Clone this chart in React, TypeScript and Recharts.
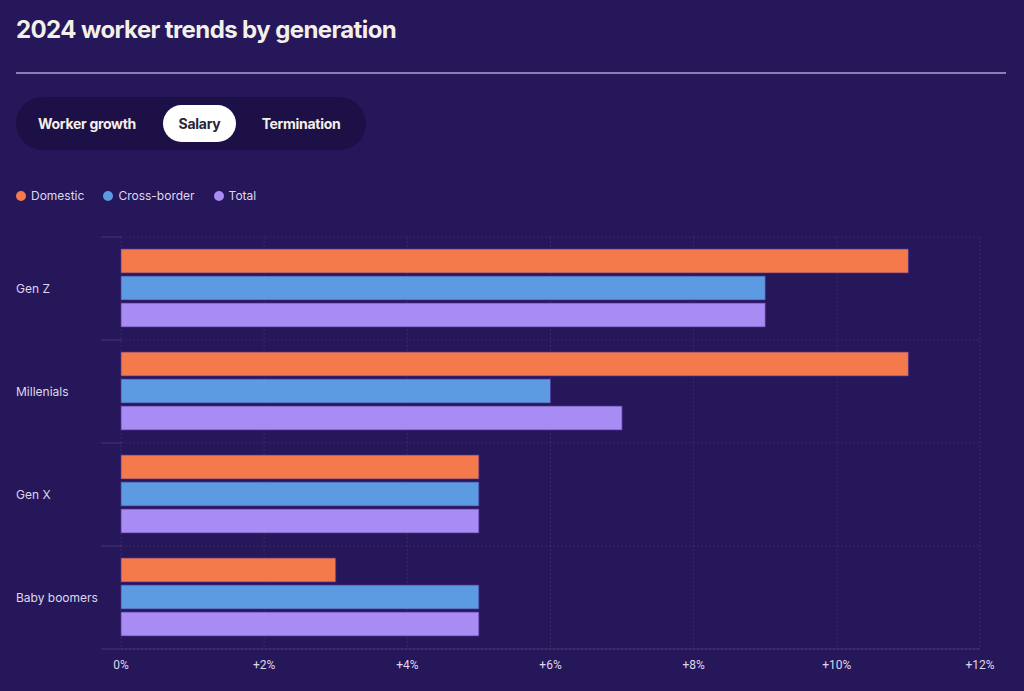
import React from "react";
import {
  BarChart,
  Bar,
  XAxis,
  YAxis,
  CartesianGrid,
} from "recharts";

const generations = ["Gen Z", "Millenials", "Gen X", "Baby boomers"];
const domestic = [11, 11, 5, 3];
const crossBorder = [9, 6, 5, 5];
const total = [9, 7, 5, 5];
const xTicks = [0, 2, 4, 6, 8, 10, 12];
const tabs = ["Worker growth", "Salary", "Termination"];

const SERIES = [
  { key: "domestic", name: "Domestic", color: "#f47a4b" },
  { key: "crossBorder", name: "Cross-border", color: "#5c9be1" },
  { key: "total", name: "Total", color: "#a88bf3" },
];

const BG = "#26175a";
const FONT = "Inter, 'Liberation Sans', Arial, sans-serif";

const chartData = generations.map((g, i) => ({
  name: g,
  domestic: domestic[i],
  crossBorder: crossBorder[i],
  total: total[i],
}));

const CHART_W = 1024;
const CHART_H = 471;
const MARGIN = { top: 17, right: 44, left: 0, bottom: 12 };
const Y_W = 121;

function YTick(props: any) {
  const { y, payload } = props;
  return (
    <text
      x={16}
      y={y}
      dy={4}
      textAnchor="start"
      fill="#ddd8ea"
      fontSize={12}
      fontFamily={FONT}
    >
      {payload.value}
    </text>
  );
}

function XTick(props: any) {
  const { x, y, payload } = props;
  const v = payload.value;
  return (
    <text
      x={x}
      y={y + 12}
      textAnchor="middle"
      fill="#ddd8ea"
      fontSize={12}
      fontFamily="'Liberation Sans Narrow', 'Roboto', sans-serif"
    >
      {v === 0 ? "0%" : `+${v}%`}
    </text>
  );
}

export default function App() {
  const bandLines = ({ offset }: any) => {
    const top = offset?.top ?? MARGIN.top;
    const h = offset?.height ?? 412;
    return generations.map((_, i) => top + (h / generations.length) * i).concat(top + h);
  };

  return (
    <div
      style={{
        position: "absolute",
        left: 0,
        top: 0,
        width: 1024,
        height: 691,
        background: BG,
        fontFamily: FONT,
        color: "#f3efe9",
        overflow: "hidden",
      }}
    >
      <div
        style={{
          position: "absolute",
          left: 16,
          top: 14,
          fontSize: 24,
          fontWeight: 700,
          letterSpacing: -0.6,
          lineHeight: "32px",
        }}
      >
        2024 worker trends by generation
      </div>
      <div
        style={{
          position: "absolute",
          left: 16,
          top: 72,
          width: 990,
          height: 2,
          background: "#8b7db6",
        }}
      />
      <div
        style={{
          position: "absolute",
          left: 16,
          top: 97,
          width: 350,
          height: 53,
          borderRadius: 27,
          background: "#1d1046",
        }}
      >
        {tabs.map((t, i) => {
          const pos = [
            { left: 6, width: 130 },
            { left: 147, width: 73 },
            { left: 230, width: 110 },
          ][i];
          const active = t === "Salary";
          return (
            <div
              key={t}
              style={{
                position: "absolute",
                top: 8,
                height: 37,
                left: pos.left,
                width: pos.width,
                borderRadius: 19,
                background: active ? "#ffffff" : "transparent",
                color: active ? "#2a2535" : "#f3efe9",
                fontSize: 14,
                fontWeight: 700,
                letterSpacing: -0.3,
                display: "flex",
                alignItems: "center",
                justifyContent: "center",
              }}
            >
              {t}
            </div>
          );
        })}
      </div>
      <div
        style={{
          position: "absolute",
          left: 16,
          top: 188,
          display: "flex",
          gap: 19,
          fontSize: 12,
          color: "#ddd8ea",
          alignItems: "center",
        }}
      >
        {SERIES.map((s) => (
          <div key={s.key} style={{ display: "flex", alignItems: "center", gap: 5 }}>
            <span
              style={{
                width: 10,
                height: 10,
                borderRadius: 5,
                background: s.color,
                display: "inline-block",
              }}
            />
            <span>{s.name}</span>
          </div>
        ))}
      </div>
      <div style={{ position: "absolute", left: 0, top: 220 }}>
        <BarChart
          width={CHART_W}
          height={CHART_H}
          data={chartData}
          layout="vertical"
          margin={MARGIN}
          barCategoryGap={12}
          barGap={3}
        >
          <CartesianGrid
            stroke="rgba(255,255,255,0.08)"
            strokeDasharray="2 2"
            horizontalCoordinatesGenerator={bandLines}
          />
          <CartesianGrid
            x={Y_W - 20}
            width={20}
            vertical={false}
            stroke="rgba(255,255,255,0.14)"
            horizontalCoordinatesGenerator={bandLines}
          />
          <XAxis
            type="number"
            domain={[0, 12]}
            ticks={xTicks}
            interval={0}
            tick={<XTick />}
            tickLine={false}
            axisLine={{ stroke: "rgba(255,255,255,0.12)" }}
            height={30}
          />
          <YAxis
            type="category"
            dataKey="name"
            width={Y_W}
            tick={<YTick />}
            tickLine={false}
            axisLine={false}
          />
          {SERIES.map((s) => (
            <Bar
              key={s.key}
              dataKey={s.key}
              name={s.name}
              fill={s.color}
              stroke="rgba(80,50,150,0.7)"
              strokeWidth={1}
              isAnimationActive={false}
            />
          ))}
        </BarChart>
      </div>
    </div>
  );
}
